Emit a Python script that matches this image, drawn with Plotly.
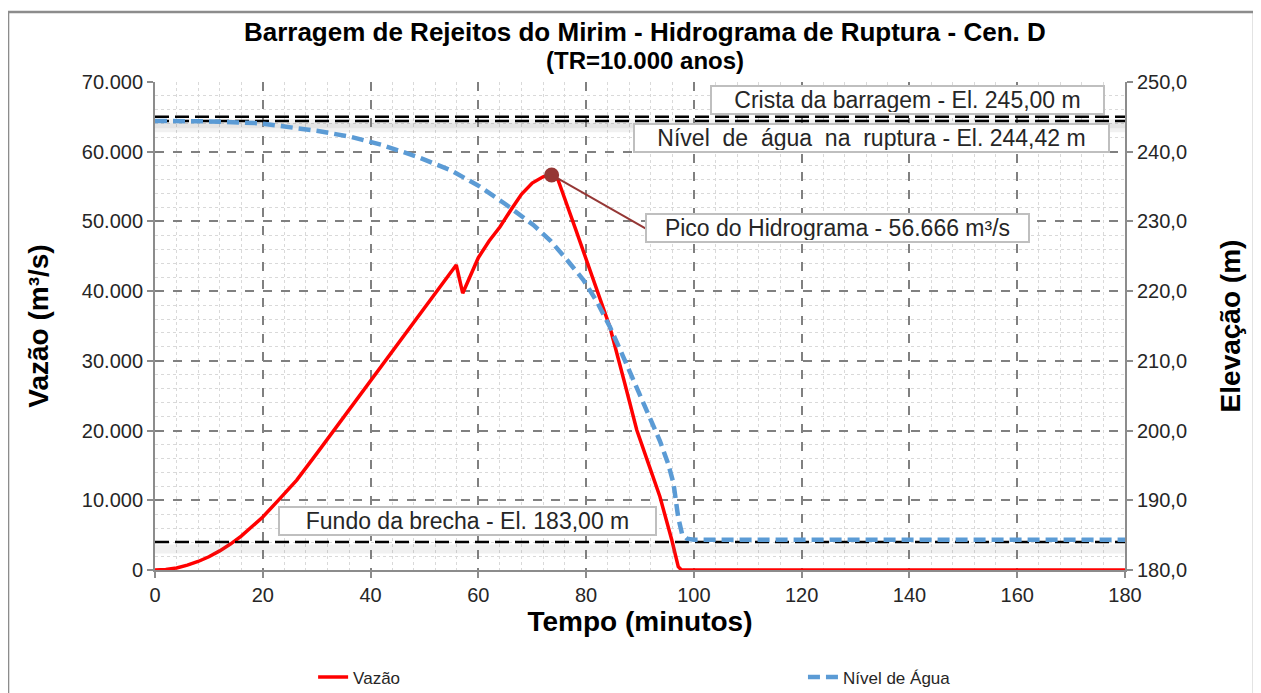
import plotly.graph_objects as go

# Hidrograma de ruptura - vazão (m³/s) x tempo (min)
tempo_vazao = [0, 2, 4, 6, 8, 10, 12, 14, 16, 18, 20, 23, 26.3, 30, 34, 38, 42, 46,
               49.2, 52, 55.9, 57.1, 60, 62, 64, 66, 68, 70, 72, 73.6, 74.8, 78,
               81.3, 84.4, 87, 89.4, 91.5, 93.7, 95.9, 97.1, 97.7, 100, 140, 180]
vazao = [0, 80, 300, 690, 1220, 1900, 2740, 3720, 4860, 6160, 7600, 10100, 12900,
         16700, 20900, 25000, 29200, 33400, 36800, 39700, 43750, 39700, 44800,
         47200, 49200, 51600, 53900, 55500, 56400, 56666, 55950, 49000, 41600,
         34900, 27300, 20080, 15400, 10500, 4300, 470, 0, 0, 0, 0]

# Nível de água no reservatório (m) x tempo (min)
tempo_nivel = [0, 10, 19.5, 30, 36.2, 42, 48.6, 55, 60.3, 65, 70.2, 73.3, 76,
               79.5, 82, 84.4, 87, 89.4, 91.5, 93.7, 95.2, 96.2, 97.1, 97.8, 98.7,
               100, 140, 180]
nivel = [244.42, 244.35, 244.08, 243.0, 242.16, 241.0, 239.29, 237.3, 234.99,
         232.5, 229.5, 227.3, 224.9, 221.6, 218.5, 214.9, 210.4, 206.0, 202.3,
         198.5, 195.3, 192.5, 187.5, 185.2, 184.5, 184.35, 184.35, 184.35]

crista_el = 245.0
nivel_ruptura_el = 244.42
fundo_el = 184.0
pico_t = 73.6
pico_q = 56666

cinza = '#8C8C8C'
texto = '#262626'
fonte = 'Liberation Sans, Arial'

fig = go.Figure()

# sombras das linhas de referência
for el in [crista_el, nivel_ruptura_el, fundo_el]:
    fig.add_trace(go.Scatter(x=[0, 180], y=[el - 1.0, el - 1.0], yaxis='y2', mode='lines',
                             line=dict(color='rgba(120,120,120,0.10)', width=9),
                             showlegend=False, hoverinfo='skip'))

for el in [crista_el, nivel_ruptura_el, fundo_el]:
    fig.add_trace(go.Scatter(x=[0, 180], y=[el, el], yaxis='y2', mode='lines',
                             line=dict(color='black', width=2.5, dash='14px,6px'),
                             showlegend=False, hoverinfo='skip'))

fig.add_trace(go.Scatter(x=tempo_vazao, y=vazao, mode='lines', name='Vazão',
                         line=dict(color='#FF0000', width=3.5), legend='legend'))
fig.add_trace(go.Scatter(x=tempo_nivel, y=nivel, yaxis='y2', mode='lines', name='Nível de Água',
                         line=dict(color='#5B9BD5', width=4.5, dash='12px,6px'), legend='legend2'))

fig.add_trace(go.Scatter(x=[pico_t], y=[pico_q], mode='markers', showlegend=False,
                         marker=dict(color='#953735', size=15)))

# ligação do pico até a caixa de texto
pico_lbl_t, pico_lbl_q = 91, 49000
fig.add_shape(type='line', x0=pico_t, y0=pico_q, x1=pico_lbl_t, y1=pico_lbl_q,
              xref='x', yref='y', line=dict(color='#953735', width=2))

caixa = dict(font=dict(size=23, color=texto, family=fonte),
             bgcolor='white', bordercolor='#BFBFBF', borderwidth=2, borderpad=1,
             showarrow=False, height=24)
fig.add_annotation(text='Crista da barragem - El. 245,00 m', x=139.6, y=247.35,
                   xref='x', yref='y2', width=389, **caixa)
fig.add_annotation(text='Nível  de  água  na  ruptura - El. 244,42 m', x=133, y=241.97,
                   xref='x', yref='y2', width=471, **caixa)
fig.add_annotation(text='Pico do Hidrograma - 56.666 m³/s', x=pico_lbl_t, y=pico_lbl_q,
                   xref='x', yref='y', xanchor='left', width=379, **caixa)
fig.add_annotation(text='Fundo da brecha - El. 183,00 m', x=58, y=6960,
                   xref='x', yref='y', width=373, **caixa)

# segunda linha do título
fig.add_annotation(text='<b>(TR=10.000 anos)</b>', x=0.505, y=1.045, xref='paper', yref='paper',
                   yanchor='middle', showarrow=False,
                   font=dict(size=24, color='black', family=fonte))

# moldura do gráfico
fig.add_shape(type='rect', xref='paper', yref='paper', x0=-0.1515, x1=1.133,
              y0=-0.28, y1=1.1434, line=dict(color=cinza, width=2.5), layer='below')

eixo = dict(showline=True, linecolor=cinza, linewidth=2, ticks='outside', ticklen=6,
            tickcolor=cinza, tickwidth=2, zeroline=False, automargin=False,
            tickfont=dict(size=20, color=texto, family=fonte))

fig.update_layout(
    width=1261, height=693, autosize=False,
    margin=dict(l=147, r=144, t=74, b=131, autoexpand=False),
    plot_bgcolor='white', paper_bgcolor='white',
    separators=',.',
    font=dict(family=fonte, color=texto),
    title=dict(text='<b>Barragem de Rejeitos do Mirim - Hidrograma de Ruptura - Cen. D</b>',
               x=0.505, xref='paper', xanchor='center', y=1 - 24 / 693, yref='container',
               yanchor='middle', font=dict(size=26, color='black', family=fonte)),
    xaxis=dict(range=[0, 180], tick0=0, dtick=20,
               showgrid=True, gridcolor='#808080', griddash='dash', gridwidth=1.5,
               minor=dict(dtick=4, showgrid=True, gridcolor='#D9D9D9', griddash='dot', gridwidth=1),
               title=dict(text='<b>Tempo (minutos)</b>', standoff=2,
                          font=dict(size=28, color='black')),
               **eixo),
    yaxis=dict(range=[0, 70000], tick0=0, dtick=10000, tickformat=',',
               showgrid=True, gridcolor='#808080', griddash='dash', gridwidth=1.5,
               minor=dict(dtick=2000, showgrid=True, gridcolor='#D9D9D9', griddash='dot', gridwidth=1),
               title=dict(text='<b>Vazão (m³/s)</b>', standoff=25,
                          font=dict(size=28, color='black')),
               **eixo),
    yaxis2=dict(range=[180, 250], tick0=180, dtick=10, tickformat='.1f', overlaying='y',
                side='right', showgrid=False,
                title=dict(text='<b>Elevação (m)</b>', standoff=34,
                           font=dict(size=28, color='black')),
                **eixo),
    legend=dict(orientation='h', x=0.163, y=-0.22, xanchor='left', yanchor='middle',
                bgcolor='rgba(0,0,0,0)', font=dict(size=17, color=texto, family=fonte)),
    legend2=dict(orientation='h', x=0.668, y=-0.22, xanchor='left', yanchor='middle',
                 bgcolor='rgba(0,0,0,0)', font=dict(size=17, color=texto, family=fonte)),
)

fig.write_html("out.html")
